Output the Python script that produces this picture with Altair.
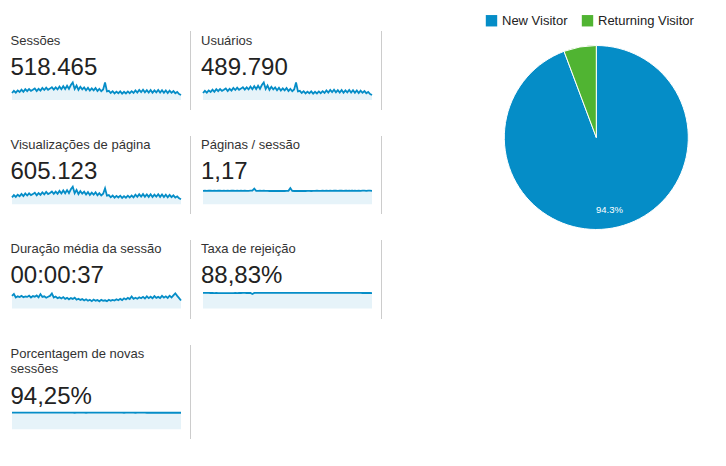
import altair as alt
import pandas as pd

FONT = "Liberation Sans"
BLUE = "#058dc7"

# ---------------- data ----------------
titles = ["Sessões", "Usuários", "Visualizações de página", "Páginas / sessão",
          "Duração média da sessão", "Taxa de rejeição", "Porcentagem de novas\nsessões"]
totals = ["518.465", "489.790", "605.123", "1,17", "00:00:37", "88,83%", "94,25%"]

sessoes = [4200, 5520, 4440, 5760, 4800, 6240, 4920, 6480, 5280, 6600, 5520, 6120, 6960, 5400, 6720,
           5640, 7200, 6000, 7440, 6120, 6840, 7680, 6240, 7560, 6360, 8040, 6480, 8280, 6600, 8520,
           6720, 9000, 10560, 6600, 8640, 6120, 7920, 6360, 7560, 5880, 7320, 5640, 6960, 5760, 7200,
           5400, 6720, 5280, 6360, 10560, 5160, 5520, 4200, 5280, 3960, 5040, 4080, 5160, 3840, 4920,
           3960, 5160, 4080, 5280, 4200, 5760, 4440, 6000, 4680, 6120, 4560, 5880, 4440, 6000, 4320,
           5760, 4560, 6000, 4440, 5880, 4320, 5760, 4200, 5640, 4320, 5400, 4080, 4800, 3600, 3000]
usuarios = [3990, 5244, 4218, 5472, 4560, 5928, 4674, 6156, 5016, 6270, 5244, 5814, 6612, 5130, 6384,
            5358, 6840, 5700, 7068, 5814, 6498, 7296, 5928, 7182, 6042, 7638, 6156, 7866, 6270, 8094,
            6384, 8550, 10032, 6270, 8208, 5814, 7524, 6042, 7182, 5586, 6954, 5358, 6612, 5472, 6840,
            5130, 6384, 5016, 6042, 10032, 4902, 5244, 3990, 5016, 3762, 4788, 3876, 4902, 3648, 4674,
            3762, 4902, 3876, 5016, 3990, 5472, 4218, 5700, 4446, 5814, 4332, 5586, 4218, 5700, 4104,
            5472, 4332, 5700, 4218, 5586, 4104, 5472, 3990, 5358, 4104, 5130, 3876, 4560, 3420, 2850]
visualizacoes = [4900, 6440, 5180, 6720, 5600, 7280, 5740, 7560, 6160, 7700, 6440, 7140, 8120, 6300, 7840,
                 6580, 8400, 7000, 8680, 7140, 7980, 8960, 7280, 8820, 7420, 9380, 7560, 9660, 7700, 9940,
                 7840, 10500, 12320, 7700, 10080, 7140, 9240, 7420, 8820, 6860, 8540, 6580, 8120, 6720, 8400,
                 6300, 7840, 6160, 7420, 11200, 6020, 6440, 4900, 6160, 4620, 5880, 4760, 6020, 4480, 5740,
                 4620, 6020, 4760, 6160, 4900, 6720, 5180, 7000, 5460, 7140, 5320, 6860, 5180, 7000, 5040,
                 6720, 5320, 7000, 5180, 6860, 5040, 6720, 4900, 6580, 5040, 6300, 4760, 5600, 4200, 3500]
paginas = [1.16, 1.17, 1.16, 1.17, 1.17, 1.16, 1.17, 1.16, 1.17, 1.17, 1.16, 1.17, 1.16, 1.17, 1.16,
           1.17, 1.17, 1.16, 1.17, 1.16, 1.17, 1.16, 1.17, 1.16, 1.17, 1.18, 1.19, 1.36, 1.17, 1.16,
           1.17, 1.16, 1.17, 1.16, 1.16, 1.15, 1.16, 1.15, 1.16, 1.15, 1.16, 1.15, 1.16, 1.15, 1.16,
           1.17, 1.40, 1.16, 1.15, 1.16, 1.15, 1.16, 1.15, 1.16, 1.15, 1.16, 1.16, 1.15, 1.16, 1.16,
           1.17, 1.16, 1.16, 1.17, 1.16, 1.17, 1.16, 1.17, 1.16, 1.17, 1.17, 1.16, 1.17, 1.17, 1.16,
           1.17, 1.17, 1.18, 1.17, 1.17, 1.18, 1.17, 1.18, 1.17, 1.18, 1.18, 1.17, 1.19, 1.18, 1.17]
duracao = [43.8, 50.8, 38.5, 42.7, 39.9, 44.1, 39.2, 42.0, 40.6, 44.8, 38.5, 43.4, 41.3, 45.5, 39.2,
           50.4, 40.6, 42.7, 37.8, 41.3, 44.1, 52.5, 38.5, 42.0, 36.4, 39.2, 35.0, 39.9, 33.6, 37.1,
           32.2, 36.4, 33.6, 37.8, 30.8, 34.3, 30.1, 32.9, 28.0, 32.2, 27.3, 30.8, 25.9, 31.5, 27.3,
           29.4, 25.2, 30.1, 26.6, 28.7, 25.9, 30.8, 27.3, 30.1, 28.0, 32.2, 28.7, 33.6, 29.4, 35.7,
           31.5, 37.1, 32.9, 42.0, 33.6, 37.8, 34.3, 39.2, 35.7, 40.6, 35.0, 42.7, 36.4, 41.3, 35.7,
           43.4, 37.1, 40.6, 36.4, 44.1, 37.8, 42.7, 37.1, 44.8, 38.5, 46.2, 53.2, 44.1, 36.4, 28.0]
rejeicao = [89.5, 89.2, 89.0, 88.6, 88.4, 88.6, 88.2, 88.4, 88.0, 88.2, 88.0, 88.2, 87.8, 88.0, 87.8,
            88.2, 88.0, 88.4, 88.2, 88.6, 88.4, 88.8, 88.6, 88.4, 88.6, 88.4, 83.0, 89.2, 89.0, 89.3,
            89.1, 89.4, 89.2, 89.5, 89.3, 89.6, 89.4, 89.5, 89.3, 89.6, 89.4, 89.5, 89.2, 89.4, 89.1,
            89.3, 89.0, 89.2, 88.9, 89.1, 88.8, 89.0, 88.7, 88.9, 88.6, 88.8, 88.5, 88.8, 88.6, 88.9,
            88.7, 89.0, 88.8, 89.1, 88.9, 89.0, 88.8, 89.1, 88.9, 89.2, 89.0, 89.1, 88.9, 89.2, 89.0,
            89.1, 88.8, 89.0, 88.7, 88.9, 88.6, 88.8, 88.5, 88.7, 88.4, 88.6, 88.3, 88.5, 88.4, 88.2]
novas = [94.6, 94.4, 94.5, 94.3, 94.5, 94.4, 94.6, 94.4, 94.5, 94.3, 94.4, 94.2, 94.4, 94.3, 94.5,
         94.3, 94.4, 94.2, 94.3, 94.1, 94.3, 94.2, 94.4, 94.2, 94.3, 94.1, 94.3, 94.2, 94.4, 94.2,
         94.3, 94.1, 94.2, 94.0, 94.2, 94.1, 94.3, 94.1, 94.2, 94.0, 94.2, 94.1, 94.3, 94.2, 94.3,
         94.1, 94.3, 94.2, 94.4, 94.2, 94.3, 94.1, 94.3, 94.2, 94.4, 94.2, 94.3, 94.1, 94.2, 94.0,
         94.2, 94.1, 94.3, 94.1, 94.2, 94.0, 94.2, 94.1, 94.3, 94.1, 94.2, 94.0, 94.1, 93.9, 94.1,
         94.0, 94.2, 94.0, 94.1, 93.9, 94.1, 93.9, 94.0, 93.8, 94.0, 93.9, 94.1, 93.9, 94.0, 93.8]
series = [sessoes, usuarios, visualizacoes, paginas, duracao, rejeicao, novas]
# upper end of each sparkline's value scale
spark_max = [12000, 11400, 14000, 1.73, 70, 114, 113.5]

visitor_types = ["New Visitor", "Returning Visitor"]
visitor_share = [94.3, 5.7]

# ---------------- layout (pixels in the chart) ----------------
COL_TEXT_X = [2.5, 193]
COL_SPARK = [(4, 173), (195, 364)]
ROW_TITLE = [36.5, 140.5, 245, 349.5]
ROW_VALUE = [66.5, 170.5, 275, 396]
ROW_SPARK_BOTTOM = [92, 196.3, 300.5, 421.3]
SPARK_H = 20
SEPARATORS = [(182.5, 23, 102), (182.5, 128, 206), (182.5, 232, 311), (182.5, 337, 431),
              (373.5, 23, 102), (373.5, 128, 206), (373.5, 232, 311)]
PIE_X, PIE_Y, PIE_R = 588.3, 129.5, 92

one = pd.DataFrame({"a": [0]})
layers = []

for k, (title, total, ser, vmax) in enumerate(zip(titles, totals, series, spark_max)):
    col, row = k % 2, k // 2
    tx = COL_TEXT_X[col]
    for j, line in enumerate(title.split("\n")):
        layers.append(
            alt.Chart(one).mark_text(align="left", baseline="alphabetic", font=FONT,
                                     fontSize=13, color="#333333")
            .encode(x=alt.value(tx), y=alt.value(ROW_TITLE[row] + 15.7 * j), text=alt.value(line))
        )
    layers.append(
        alt.Chart(one).mark_text(align="left", baseline="alphabetic", font=FONT,
                                 fontSize=24, color="#222222")
        .encode(x=alt.value(tx), y=alt.value(ROW_VALUE[row]), text=alt.value(total))
    )
    df = pd.DataFrame({"i": list(range(len(ser))), "v": ser})
    x0, x1 = COL_SPARK[col]
    bottom = ROW_SPARK_BOTTOM[row]
    xenc = alt.X("i:Q", axis=None,
                 scale=alt.Scale(domain=[0, len(ser) - 1], range=[x0, x1], nice=False, zero=False))
    yenc = alt.Y("v:Q", axis=None,
                 scale=alt.Scale(domain=[0, vmax], range=[bottom, bottom - SPARK_H], nice=False))
    layers.append(alt.Chart(df).mark_area(color=BLUE, opacity=0.1).encode(x=xenc, y=yenc))
    layers.append(alt.Chart(df).mark_line(color=BLUE, strokeWidth=1.8).encode(x=xenc, y=yenc))

for sx, y0, y1 in SEPARATORS:
    layers.append(
        alt.Chart(one).mark_rule(color="#cccccc", strokeWidth=1)
        .encode(x=alt.value(sx), y=alt.value(y0), y2=alt.value(y1))
    )

pie_df = pd.DataFrame({"type": visitor_types, "share": visitor_share})
pie_df["label"] = [f"{s:.1f}%" if s > 10 else "" for s in visitor_share]

arc = alt.Chart(pie_df).mark_arc(radius=PIE_R, stroke="white", strokeWidth=1).encode(
    theta=alt.Theta("share:Q", stack=True),
    order=alt.Order("type:N", sort="ascending"),
    color=alt.Color("type:N",
                    scale=alt.Scale(domain=visitor_types, range=["#058DC7", "#50B432"]),
                    legend=alt.Legend(orient="none", legendX=477, legendY=6, direction="horizontal",
                                      title=None, symbolType="square", symbolSize=130,
                                      symbolStrokeWidth=0, labelFont=FONT, labelFontSize=13,
                                      labelColor="#222222", columnPadding=13, labelOffset=4,
                                      padding=0)),
    x=alt.value(PIE_X), y=alt.value(PIE_Y),
)
pie_label = alt.Chart(pie_df).mark_text(radius=74, color="white", font=FONT, fontSize=9.5,
                                        align="center", baseline="middle").encode(
    theta=alt.Theta("share:Q", stack=True),
    order=alt.Order("type:N", sort="ascending"),
    text="label:N",
    x=alt.value(PIE_X), y=alt.value(PIE_Y),
)
layers += [arc, pie_label]

chart = (
    alt.layer(*layers)
    .resolve_scale(x="independent", y="independent")
    .properties(width=710, height=450, padding=0, autosize=alt.AutoSizeParams(type="none"),
                background="white")
    .configure_view(stroke=None)
)

chart.save("out.html", embed_options={"renderer": "svg", "actions": False})
